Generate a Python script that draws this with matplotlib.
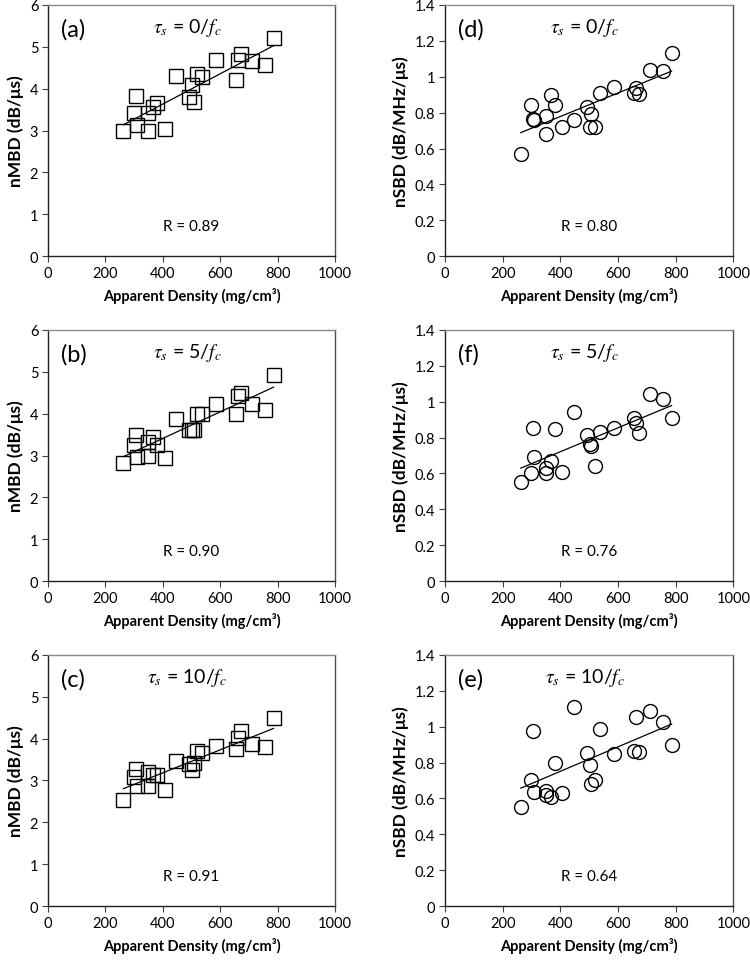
import numpy as np
import matplotlib
matplotlib.use("Agg")
import matplotlib.pyplot as plt

plt.rcParams['font.family'] = ['Lato', 'DejaVu Sans']
plt.rcParams['mathtext.fontset'] = 'stix'

# Apparent density (mg/cm^3) shared by all panels
density = [263, 300, 307, 309, 349, 350, 367, 381, 406, 447, 492,
           502, 507, 519, 537, 586, 655, 662, 674, 712, 755, 786]

# nMBD (dB/us)
nmbd_0 = [3.00, 3.43, 3.83, 3.13, 3.43, 2.98, 3.55, 3.66, 3.04, 4.30, 3.81,
          4.09, 3.69, 4.35, 4.27, 4.68, 4.20, 4.68, 4.83, 4.65, 4.57, 5.20]
nmbd_5 = [2.83, 3.25, 3.50, 2.96, 3.32, 3.00, 3.43, 3.26, 2.93, 3.87, 3.61,
          3.62, 3.60, 3.99, 3.99, 4.23, 3.99, 4.42, 4.50, 4.22, 4.08, 4.92]
nmbd_10 = [2.54, 3.08, 3.28, 2.86, 3.21, 2.87, 3.13, 3.13, 2.78, 3.47, 3.40,
           3.24, 3.42, 3.70, 3.65, 3.82, 3.75, 4.02, 4.19, 3.86, 3.79, 4.49]

# nSBD (dB/MHz/us)
nsbd_0 = [0.57, 0.84, 0.765, 0.76, 0.78, 0.68, 0.90, 0.84, 0.72, 0.76, 0.83,
          0.72, 0.79, 0.72, 0.91, 0.94, 0.91, 0.935, 0.905, 1.035, 1.03, 1.13]
nsbd_5 = [0.55, 0.605, 0.855, 0.69, 0.63, 0.60, 0.67, 0.845, 0.61, 0.94, 0.815,
          0.765, 0.755, 0.64, 0.83, 0.855, 0.91, 0.88, 0.825, 1.045, 1.015, 0.91]
nsbd_10 = [0.555, 0.705, 0.975, 0.635, 0.64, 0.62, 0.61, 0.80, 0.63, 1.11, 0.855,
           0.785, 0.68, 0.705, 0.985, 0.85, 0.865, 1.055, 0.86, 1.085, 1.025, 0.895]

panel_labels = ['(a)', '(b)', '(c)', '(d)', '(f)', '(e)']
tau_labels = [r'$\tau_s$ = 0/$f_c$', r'$\tau_s$ = 5/$f_c$', r'$\tau_s$ = 10/$f_c$']
r_labels_mbd = ['R = 0.89', 'R = 0.90', 'R = 0.91']
r_labels_sbd = ['R = 0.80', 'R = 0.76', 'R = 0.64']

fig = plt.figure(figsize=(7.5, 9.62), dpi=100)

lefts = [0.064, 0.5933]
widths = [0.3827, 0.3844]
bottoms = [0.7325, 0.3947, 0.0569]
height = 0.2615

x = np.array(density, dtype=float)

def style_axes(ax, ymax, yticks, ylabel):
    ax.set_xlim(0, 1000)
    ax.set_ylim(0, ymax)
    ax.set_xticks([0, 200, 400, 600, 800, 1000])
    ax.set_xticklabels(['0', '200', '400', '600', '800', '1000'])
    ax.set_yticks(yticks)
    ax.set_yticklabels([('%g' % t) for t in yticks])
    ax.tick_params(direction='out', length=4, width=0.8, labelsize=10.5,
                   color='#404040', pad=3)
    ax.spines['left'].set_color('#202020')
    ax.spines['bottom'].set_color('#202020')
    ax.spines['top'].set_color('#8a8a8a')
    ax.spines['right'].set_color('#505050')
    for s in ax.spines.values():
        s.set_linewidth(1.0)
    ax.set_xlabel('Apparent Density (mg/cm³)', fontsize=10.5, fontweight='bold', labelpad=5)
    ax.set_ylabel(ylabel, fontsize=12.5, fontweight='bold', labelpad=4)

cols = [
    (nmbd_0, nmbd_5, nmbd_10),
    (nsbd_0, nsbd_5, nsbd_10),
]
for c in range(2):
    for r in range(3):
        ax = fig.add_axes([lefts[c], bottoms[r], widths[c], height])
        y = np.array(cols[c][r], dtype=float)
        if c == 0:
            ax.plot(x, y, linestyle='none', marker='s', markersize=9.5,
                    markerfacecolor='none', markeredgecolor='black', markeredgewidth=1.0)
            style_axes(ax, 6, [0, 1, 2, 3, 4, 5, 6], 'nMBD (dB/μs)')
            rtxt = r_labels_mbd[r]
        else:
            ax.plot(x, y, linestyle='none', marker='o', markersize=10,
                    markerfacecolor='none', markeredgecolor='black', markeredgewidth=1.0)
            style_axes(ax, 1.4, [0, 0.2, 0.4, 0.6, 0.8, 1.0, 1.2, 1.4], 'nSBD (dB/MHz/μs)')
            rtxt = r_labels_sbd[r]
        k, b = np.polyfit(x, y, 1)
        xl = np.array([x.min(), x.max()])
        ax.plot(xl, k * xl + b, color='black', linewidth=0.9)
        ax.text(0.045, 0.905, panel_labels[c * 3 + r], transform=ax.transAxes,
                fontsize=17, ha='left', va='center')
        ax.text(0.485, 0.91, tau_labels[r], transform=ax.transAxes,
                fontsize=14, ha='center', va='center')
        ax.text(0.50, 0.12, rtxt, transform=ax.transAxes,
                fontsize=11, ha='center', va='center')

fig.savefig('out.png', dpi=100)
